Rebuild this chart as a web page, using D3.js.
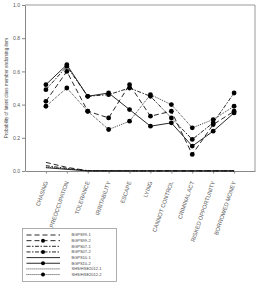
<!DOCTYPE html>
<html>
<head>
<meta charset="utf-8">
<script src="https://cdn.jsdelivr.net/npm/d3@7"></script>
<style>
  body { margin: 0; background: #fff; }
  svg, svg text { font-family: "Liberation Sans", Arial, sans-serif; }
  svg { display: block; }
</style>
</head>
<body>
<svg id="chart" width="260" height="290"></svg>
<script>
// Items on the x axis
const items = ['CHASING', 'PREOCCUPATION', 'TOLERANCE', 'IRRITABILITY', 'ESCAPE',
    'LYING', 'CANNOT CONTROL', 'CRIMINAL ACT', 'RISKED OPPORTUNITY', 'BORROWED MONEY'];

const yTicks = [0, 0.2, 0.4, 0.6, 0.8, 1.0];

// Class 1 (low) series
const bgps99_1 = [0.052, 0.022, 0.002, 0.001, 0.001, 0.001, 0.001, 0.001, 0.001, 0.001];
const bgps07_1 = [0.032, 0.016, 0.002, 0.001, 0.001, 0.001, 0.001, 0.001, 0.001, 0.001];
const bgps10_1 = [0.020, 0.010, 0.001, 0.001, 0.001, 0.001, 0.001, 0.001, 0.001, 0.001];
const shs12_1  = [0.024, 0.013, 0.001, 0.001, 0.001, 0.001, 0.001, 0.001, 0.001, 0.001];

// Class 2 (high) series
const bgps99_2 = [0.42, 0.60, 0.36, 0.32, 0.52, 0.33, 0.36, 0.10, 0.28, 0.36];
const bgps07_2 = [0.49, 0.63, 0.45, 0.46, 0.50, 0.45, 0.32, 0.19, 0.29, 0.47];
const bgps10_2 = [0.52, 0.64, 0.45, 0.47, 0.37, 0.27, 0.29, 0.15, 0.24, 0.35];
const shs12_2  = [0.39, 0.50, 0.36, 0.25, 0.30, 0.46, 0.40, 0.26, 0.31, 0.39];

const series = [
    { label: 'BGPS99-1', values: bgps99_1, dash: '5,3', dots: false },
    { label: 'BGPS99-2', values: bgps99_2, dash: '5,3', dots: true },
    { label: 'BGPS07-1', values: bgps07_1, dash: '4,1.5,1.5,1.5', dots: false },
    { label: 'BGPS07-2', values: bgps07_2, dash: '4,1.5,1.5,1.5', dots: true },
    { label: 'BGPS10-1', values: bgps10_1, dash: null, dots: false },
    { label: 'BGPS10-2', values: bgps10_2, dash: null, dots: true },
    { label: 'SHS/HSE2012-1', values: shs12_1, dash: '0.9,1.1', dots: false },
    { label: 'SHS/HSE2012-2', values: shs12_2, dash: '0.9,1.1', dots: true }
];

const svg = d3.select('#chart');
const plotLeft = 25, plotRight = 255, plotTop = 5, plotBottom = 171;

const x = d3.scalePoint().domain(items).range([plotLeft, plotRight]).padding(1);
const y = d3.scaleLinear().domain([0, 1]).range([plotBottom, plotTop]);

// Frame (top and right)
svg.append('path')
    .attr('d', `M${plotLeft},${plotTop}H${plotRight}V${plotBottom}`)
    .attr('fill', 'none')
    .attr('stroke', '#9a9a9a')
    .attr('stroke-width', 1);

// Y axis
const yAxis = svg.append('g')
    .attr('transform', `translate(${plotLeft},0)`)
    .call(d3.axisLeft(y).tickValues(yTicks).tickFormat(d3.format('.1f')).tickSize(3).tickSizeOuter(0));
yAxis.select('.domain').attr('stroke', '#888');
yAxis.selectAll('.tick line').attr('stroke', '#888');
yAxis.selectAll('.tick text')
    .attr('font-size', 5)
    .attr('fill', '#555')
    .attr('x', -5);

// X axis
const xAxis = svg.append('g')
    .attr('transform', `translate(0,${plotBottom})`)
    .call(d3.axisBottom(x).tickSize(2.5).tickSizeOuter(0));
xAxis.select('.domain').attr('stroke', '#888');
xAxis.selectAll('.tick line').attr('stroke', '#888');
xAxis.selectAll('.tick text')
    .attr('font-size', 5.7)
    .attr('fill', '#555')
    .attr('text-anchor', 'end')
    .attr('dy', 0)
    .attr('y', 0)
    .attr('transform', 'translate(1.5,11) rotate(-71)');

// Y axis title
svg.append('text')
    .attr('transform', `translate(7.5,${(plotTop + plotBottom) / 2}) rotate(-90)`)
    .attr('text-anchor', 'middle')
    .attr('font-size', 4.6)
    .attr('fill', '#444')
    .text('Probability of latent class member endorsing item');

// Lines and dots
const line = d3.line()
    .x((d, i) => x(items[i]))
    .y(d => y(d));

series.forEach(s => {
    svg.append('path')
        .datum(s.values)
        .attr('d', line)
        .attr('fill', 'none')
        .attr('stroke', '#111')
        .attr('stroke-width', 0.9)
        .attr('stroke-dasharray', s.dash);

    if (s.dots) {
        svg.append('g')
            .selectAll('circle')
            .data(s.values)
            .join('circle')
            .attr('cx', (d, i) => x(items[i]))
            .attr('cy', d => y(d))
            .attr('r', 2.4)
            .attr('fill', '#000');
    }
});

// Legend
const legend = svg.append('g').attr('transform', 'translate(22.5,228.5)');
legend.append('rect')
    .attr('width', 94)
    .attr('height', 53)
    .attr('fill', '#fff')
    .attr('stroke', '#9a9a9a')
    .attr('stroke-width', 0.8);

series.forEach((s, i) => {
    const row = legend.append('g').attr('transform', `translate(0,${6.5 + i * 5.65})`);
    row.append('line')
        .attr('x1', 4).attr('x2', 37.5)
        .attr('stroke', '#111')
        .attr('stroke-width', 0.9)
        .attr('stroke-dasharray', s.dash);
    if (s.dots) {
        row.append('circle').attr('cx', 20.5).attr('r', 2).attr('fill', '#000');
    }
    row.append('text')
        .attr('x', 49)
        .attr('dy', '0.35em')
        .attr('font-size', 4)
        .attr('fill', '#444')
        .text(s.label);
});
</script>
</body>
</html>
